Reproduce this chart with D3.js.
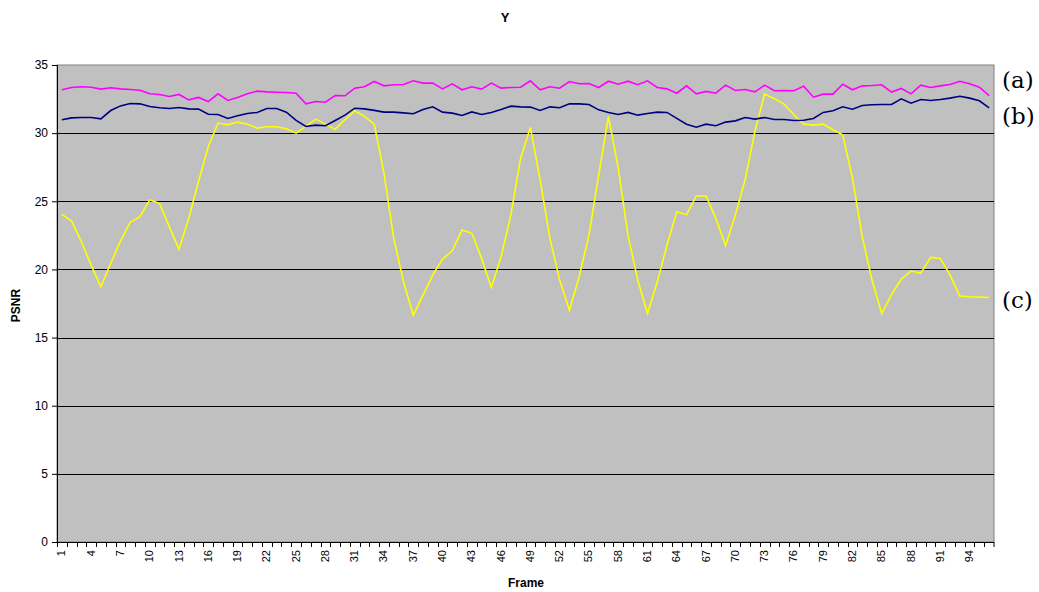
<!DOCTYPE html>
<html>
<head>
<meta charset="utf-8">
<script src="https://d3js.org/d3.v7.min.js"></script>
<style>
  body { margin: 0; background: #fff; }
  text { font-family: "Liberation Sans", Arial, sans-serif; }
</style>
</head>
<body>
<div id="my_dataviz"></div>
<script>
// frames 1..96
var frames = d3.range(1, 97);
var frameLabels = [1, 4, 7, 10, 13, 16, 19, 22, 25, 28, 31, 34, 37, 40, 43, 46, 49, 52, 55, 58, 61, 64, 67, 70, 73, 76, 79, 82, 85, 88, 91, 94];
var yTicks = [0, 5, 10, 15, 20, 25, 30, 35];

// (a)
var seriesA = [33.18, 33.35, 33.40, 33.37, 33.23, 33.33, 33.25, 33.20, 33.15, 32.89,
  32.84, 32.69, 32.84, 32.44, 32.62, 32.32, 32.89, 32.40, 32.62, 32.89,
  33.08, 33.03, 33.00, 32.98, 32.93, 32.15, 32.32, 32.27, 32.76, 32.74,
  33.30, 33.40, 33.79, 33.47, 33.55, 33.57, 33.84, 33.67, 33.67, 33.25,
  33.62, 33.18, 33.40, 33.23, 33.67, 33.30, 33.35, 33.37, 33.84, 33.18,
  33.40, 33.30, 33.79, 33.62, 33.64, 33.35, 33.81, 33.59, 33.81, 33.55,
  33.84, 33.35, 33.25, 32.93, 33.47, 32.88, 33.06, 32.93, 33.52, 33.13,
  33.20, 33.03, 33.52, 33.11, 33.13, 33.11, 33.45, 32.64, 32.86, 32.86,
  33.59, 33.18, 33.47, 33.50, 33.55, 33.01, 33.28, 32.88, 33.52, 33.35,
  33.47, 33.57, 33.81, 33.62, 33.37, 32.76];

// (b)
var seriesB = [30.98, 31.12, 31.15, 31.15, 31.05, 31.66, 32.00, 32.18, 32.15, 31.96,
  31.86, 31.81, 31.88, 31.78, 31.76, 31.39, 31.37, 31.08, 31.27, 31.44,
  31.52, 31.81, 31.81, 31.54, 30.93, 30.49, 30.59, 30.54, 30.93, 31.32,
  31.83, 31.78, 31.67, 31.54, 31.54, 31.49, 31.42, 31.74, 31.93, 31.54,
  31.47, 31.30, 31.56, 31.37, 31.52, 31.74, 31.98, 31.93, 31.91, 31.66,
  31.93, 31.86, 32.15, 32.15, 32.10, 31.71, 31.52, 31.37, 31.52, 31.32,
  31.44, 31.54, 31.52, 31.08, 30.66, 30.44, 30.66, 30.54, 30.81, 30.90,
  31.15, 31.03, 31.15, 31.00, 31.00, 30.93, 30.95, 31.08, 31.52, 31.64,
  31.93, 31.76, 32.03, 32.08, 32.10, 32.10, 32.52, 32.20, 32.47, 32.40,
  32.47, 32.57, 32.71, 32.57, 32.37, 31.86];

// (c)
var seriesC = [24.04, 23.55, 22.03, 20.32, 18.73, 20.44, 22.08, 23.46, 23.87, 25.10,
  24.85, 23.14, 21.47, 23.75, 26.45, 29.02, 30.74, 30.61, 30.81, 30.66,
  30.37, 30.47, 30.47, 30.32, 30.00, 30.49, 31.03, 30.66, 30.29, 30.98,
  31.64, 31.23, 30.66, 27.06, 22.28, 19.10, 16.64, 18.11, 19.58, 20.76,
  21.37, 22.89, 22.65, 20.81, 18.68, 20.93, 24.00, 28.16, 30.42, 26.57,
  22.28, 19.22, 17.01, 19.46, 22.52, 26.94, 31.23, 27.43, 22.52, 19.22,
  16.76, 19.09, 21.79, 24.24, 24.02, 25.39, 25.39, 23.75, 21.74, 24.00,
  26.57, 30.12, 32.87, 32.52, 32.13, 31.35, 30.66, 30.59, 30.66, 30.25,
  29.88, 26.69, 22.40, 19.22, 16.76, 18.16, 19.29, 19.88, 19.71, 20.88,
  20.81, 19.58, 18.04, 17.99, 17.97, 17.94];

var seriesNames = ["(a)", "(b)", "(c)"];
var seriesColors = ["#ff00ff", "#000080", "#ffff00"];
var allSeries = [seriesA, seriesB, seriesC];

var W = 1039, H = 592;
var plot = {left: 57, right: 994, top: 65, bottom: 542};

var svg = d3.select("#my_dataviz")
  .append("svg")
  .attr("width", W)
  .attr("height", H);

var x = d3.scaleBand()
  .domain(frames)
  .range([plot.left, plot.right])
  .padding(0);

var y = d3.scaleLinear()
  .domain([0, 35])
  .range([plot.bottom, plot.top]);

// plot background
svg.append("rect")
  .attr("x", plot.left)
  .attr("y", plot.top)
  .attr("width", plot.right - plot.left)
  .attr("height", plot.bottom - plot.top)
  .attr("fill", "#c0c0c0")
  .attr("stroke", "#808080")
  .attr("stroke-width", 1);

// grid lines
svg.append("g")
  .selectAll("line")
  .data(yTicks.filter(function(d) { return d > 0 && d < 35; }))
  .enter()
  .append("line")
  .attr("x1", plot.left)
  .attr("x2", plot.right)
  .attr("y1", function(d) { return Math.round(y(d)) + 0.5; })
  .attr("y2", function(d) { return Math.round(y(d)) + 0.5; })
  .attr("stroke", "#000")
  .attr("stroke-width", 1);

// lines
var line = d3.line()
  .x(function(d, i) { return x(frames[i]) + x.bandwidth() / 2; })
  .y(function(d) { return y(d); });

[2, 1, 0].forEach(function(k) {
  svg.append("path")
    .datum(allSeries[k])
    .attr("fill", "none")
    .attr("stroke", seriesColors[k])
    .attr("stroke-width", 1.6)
    .attr("stroke-linejoin", "miter")
    .attr("d", line);
});

// Y axis
var yAxis = svg.append("g")
  .attr("transform", "translate(" + plot.left + ",0)")
  .call(d3.axisLeft(y).tickValues(yTicks).tickSize(5).tickPadding(4));
yAxis.select(".domain").attr("stroke", "#000");
yAxis.selectAll("text")
  .attr("font-size", "12px")
  .attr("fill", "#000");

// X axis: tick marks on category boundaries
var xAxisG = svg.append("g");
xAxisG.append("line")
  .attr("x1", plot.left)
  .attr("x2", plot.right)
  .attr("y1", plot.bottom + 0.5)
  .attr("y2", plot.bottom + 0.5)
  .attr("stroke", "#000");
xAxisG.selectAll("line.tk")
  .data(frames.concat([null]))
  .enter()
  .append("line")
  .attr("class", "tk")
  .attr("x1", function(d) { return d === null ? plot.right : Math.round(x(d)) + 0.5; })
  .attr("x2", function(d) { return d === null ? plot.right : Math.round(x(d)) + 0.5; })
  .attr("y1", plot.bottom)
  .attr("y2", plot.bottom + 5)
  .attr("stroke", "#000");

// X tick labels
xAxisG.selectAll("text.lbl")
  .data(frameLabels)
  .enter()
  .append("text")
  .attr("class", "lbl")
  .attr("transform", function(d) {
    return "translate(" + (x(d) + x.bandwidth() / 2 + 3.5) + "," + (plot.bottom + 8) + ") rotate(-90)";
  })
  .attr("text-anchor", "end")
  .attr("font-size", "11px")
  .attr("fill", "#000")
  .text(function(d) { return d; });

// title and axis titles
svg.append("text")
  .attr("x", 505)
  .attr("y", 22)
  .attr("text-anchor", "middle")
  .attr("font-size", "13px")
  .attr("font-weight", "bold")
  .text("Y");

svg.append("text")
  .attr("x", 526)
  .attr("y", 587)
  .attr("text-anchor", "middle")
  .attr("font-size", "12px")
  .attr("font-weight", "bold")
  .text("Frame");

svg.append("text")
  .attr("transform", "translate(20," + ((plot.top + plot.bottom) / 2 + 2) + ") rotate(-90)")
  .attr("text-anchor", "middle")
  .attr("font-size", "12px")
  .attr("font-weight", "bold")
  .text("PSNR");

// series labels on the right (serif, like the LaTeX overlay)
var labelBaseline = [88, 124, 308];
svg.selectAll("text.slabel")
  .data(seriesNames)
  .enter()
  .append("text")
  .attr("class", "slabel")
  .attr("x", 1002)
  .attr("y", function(d, i) { return labelBaseline[i]; })
  .style("font-family", "'DejaVu Serif', 'Liberation Serif', serif")
  .style("font-size", "23px")
  .attr("fill", "#000")
  .text(function(d) { return d; });
</script>
</body>
</html>
